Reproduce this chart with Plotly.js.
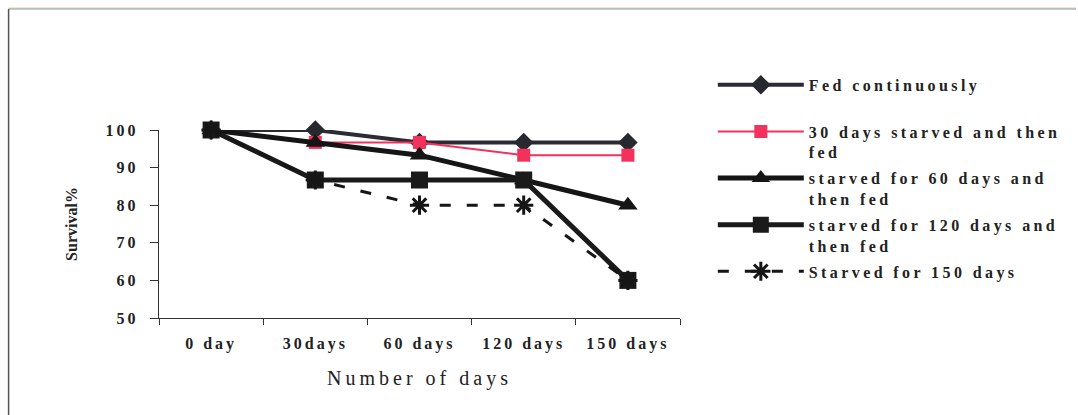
<!DOCTYPE html>
<html>
<head>
<meta charset="utf-8">
<script src="https://cdn.plot.ly/plotly-3.0.1.min.js"></script>
<style>
  html, body { margin: 0; padding: 0; background: #fff; }
  #chart { width: 1078px; height: 415px; }
  .legendtext { letter-spacing: 3.4px; }
  .xtick text, .ytick text { letter-spacing: 3px; }
  .xtitle { letter-spacing: 4px; }
</style>
</head>
<body>
<div id="chart"></div>
<script>
// Sampling points along the x axis
var categories = ['0 day', '30days', '60 days', '120 days', '150 days'];

// Survival (%) for each feeding regime
var fedContinuously = [100, 100, 96.7, 96.7, 96.7];
var starved30 = [100, 96.7, 96.7, 93.3, 93.3];
var starved60 = [100, 96.7, 93.3, 86.7, 80];
var starved120 = [100, 86.7, 86.7, 86.7, 60];
var starved150 = [100, 86.7, 80, 80, 60];

var seriesNames = [
  'Fed continuously<br> ',
  '30 days starved and then<br>fed',
  'starved for 60 days and<br>then fed',
  'starved for 120 days and<br>then fed',
  'Starved for 150 days'
];

var yTicks = [50, 60, 70, 80, 90, 100];

var serif = 'Liberation Serif, Times New Roman, serif';

function series(name, values, line, marker) {
  return {
    type: 'scatter',
    mode: 'lines+markers',
    x: categories,
    y: values,
    name: name,
    line: line,
    marker: marker,
    cliponaxis: false,
    legendgroup: name,
    hoverinfo: 'skip'
  };
}

var data = [
  series(seriesNames[0], fedContinuously,
    {color: '#2b2b33', width: 4},
    {symbol: 'diamond', size: 15, color: '#28282f'}),
  series(seriesNames[1], starved30,
    {color: '#f2315c', width: 2},
    {symbol: 'square', size: 13, color: '#f2315c'}),
  series(seriesNames[2], starved60,
    {color: '#151515', width: 5},
    {symbol: 'triangle-up', size: 17, color: '#151515'}),
  series(seriesNames[3], starved120,
    {color: '#1a1a1a', width: 5},
    {symbol: 'square', size: 17, color: '#1a1a1a'}),
  series(seriesNames[4], starved150,
    {color: '#151515', width: 3, dash: '11px,16px'},
    {symbol: 'asterisk-open', size: 16, color: '#151515', line: {width: 3, color: '#151515'}})
];

var layout = {
  width: 1078,
  height: 415,
  margin: {l: 159, r: 396, t: 130, b: 97, pad: 0},
  paper_bgcolor: '#ffffff',
  plot_bgcolor: '#ffffff',
  showlegend: true,
  font: {family: serif, color: '#222'},
  xaxis: {
    type: 'category',
    range: [-0.5, 4.5],
    tickson: 'boundaries',
    ticks: 'outside',
    ticklen: 6,
    tickcolor: '#333',
    showline: true,
    linecolor: '#333',
    linewidth: 1.2,
    showgrid: false,
    zeroline: false,
    automargin: false,
    tickfont: {family: serif, size: 16, weight: 'bold', color: '#222'},
    ticklabelstandoff: 11,
    title: {text: 'Number of days', font: {family: serif, size: 20, color: '#222'}, standoff: 18},
    fixedrange: true
  },
  yaxis: {
    range: [50, 100],
    tickvals: yTicks,
    ticktext: yTicks.map(String),
    ticks: 'outside',
    ticklen: 8,
    tickcolor: '#333',
    showline: true,
    linecolor: '#333',
    linewidth: 1.2,
    showgrid: false,
    zeroline: false,
    automargin: false,
    tickfont: {family: serif, size: 16, weight: 'bold', color: '#222'},
    ticklabelstandoff: 8,
    title: {text: 'Survival%', font: {family: serif, size: 16, weight: 'bold', color: '#222'}, standoff: 24},
    fixedrange: true
  },
  legend: {
    x: 1.063,
    xanchor: 'left',
    y: 1.33,
    yanchor: 'top',
    valign: 'top',
    itemwidth: 86,
    traceorder: 'grouped',
    tracegroupgap: 2,
    maxheight: 600,
    font: {family: serif, size: 16, weight: 'bold', color: '#222'},
    bgcolor: 'rgba(0,0,0,0)',
    borderwidth: 0
  },
  shapes: [
    // page frame: top rule and left edge
    {type: 'line', xref: 'paper', yref: 'paper', x0: -0.2887, x1: 1.76, y0: 1.6489, y1: 1.6489,
     line: {color: '#e4d08a', width: 1}},
    {type: 'line', xref: 'paper', yref: 'paper', x0: -0.2887, x1: 1.76, y0: 1.6436, y1: 1.6436,
     line: {color: '#7f98b0', width: 1}},
    {type: 'line', xref: 'paper', yref: 'paper', x0: -0.2887, x1: -0.2887, y0: 1.6436, y1: -0.52,
     line: {color: '#555555', width: 1.5}}
  ]
};

Plotly.newPlot('chart', data, layout, {staticPlot: true, displayModeBar: false});
</script>
</body>
</html>
